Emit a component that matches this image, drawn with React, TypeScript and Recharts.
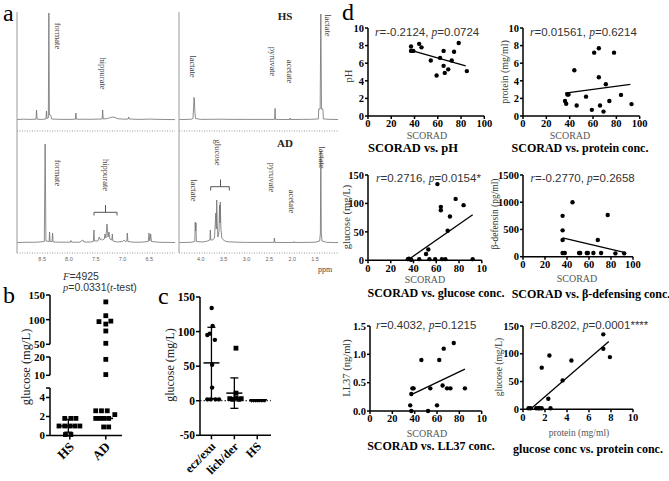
import React from 'react';
import {
  LineChart,
  Line,
  ScatterChart,
  Scatter,
  XAxis,
  YAxis,
  ErrorBar,
  ReferenceLine,
} from 'recharts';

const SERIF = '"Liberation Serif", "Times New Roman", serif';
const SANS = '"Liberation Sans", Arial, sans-serif';

// ---------- panel a: 1H NMR spectra as [ppm, peak height] ----------
const hsAromatic = [
  [8.97, 0.5], [8.85, 0.8], [8.72, 0.6], [8.615, 0.8], [8.605, 10], [8.595, 0.8], [8.5, 0.6],
  [8.43, 1], [8.42, 9], [8.41, 1.5], [8.385, 2], [8.375, 107], [8.365, 5], [8.355, 5], [8.345, 5],
  [8.335, 4], [8.325, 1], [8.2, 0.7], [8.0, 0.6], [7.88, 0.8], [7.87, 7], [7.86, 0.8], [7.6, 0.7],
  [7.45, 0.9], [7.38, 1], [7.371, 10], [7.36, 1], [7.28, 1.5], [7.22, 2.5], [7.18, 3], [7.14, 2.5],
  [7.08, 1.2], [6.95, 0.8], [6.895, 1], [6.885, 3], [6.875, 1], [6.7, 0.6], [6.5, 0.9], [6.3, 0.6],
  [6.15, 0.5], [6.02, 0.4],
];
const adAromatic = [
  [8.97, 0.5], [8.8, 0.7], [8.6, 0.8], [8.46, 1.5], [8.445, 99], [8.43, 2], [8.37, 1.5], [8.362, 11],
  [8.352, 1.5], [8.315, 1.5], [8.306, 10], [8.296, 1], [8.15, 0.8], [7.975, 0.8], [7.964, 2.5],
  [7.95, 0.8], [7.8, 0.8], [7.74, 3], [7.72, 1], [7.6, 1], [7.545, 1.5], [7.534, 13], [7.523, 2],
  [7.46, 2], [7.435, 6], [7.41, 3], [7.39, 4], [7.37, 3], [7.34, 4], [7.328, 9], [7.31, 5], [7.29, 19],
  [7.27, 6], [7.253, 11], [7.235, 4], [7.2, 3], [7.19, 9], [7.18, 2], [7.1, 1], [7.0, 1.5], [6.973, 3],
  [6.95, 1.5], [6.92, 2], [6.911, 10], [6.9, 1.5], [6.8, 0.8], [6.65, 0.8], [6.52, 1.5], [6.506, 10],
  [6.49, 2], [6.474, 9], [6.46, 1.5], [6.3, 0.7], [6.15, 0.6], [6.02, 0.5],
];
const hsAliphatic = [
  [4.47, 0.5], [4.3, 0.6], [4.2, 0.8], [4.17, 1.5], [4.155, 14], [4.147, 22.6], [4.138, 20], [4.128, 8],
  [4.115, 1.5], [4.0, 0.6], [3.8, 0.7], [3.6, 0.8], [3.3, 0.6], [3.0, 0.6], [2.7, 0.6], [2.385, 0.6],
  [2.375, 11.6], [2.365, 0.6], [2.2, 0.5], [2.055, 0.5], [2.047, 2], [2.04, 0.5], [1.8, 0.6], [1.6, 0.7],
  [1.45, 1], [1.43, 1], [1.42, 11], [1.39, 11], [1.375, 106], [1.36, 11], [1.33, 11], [1.32, 1],
  [1.15, 0.6], [1.0, 0.5],
];
const adAliphatic = [
  [4.47, 0.5], [4.3, 0.6], [4.2, 0.8], [4.13, 1.5], [4.12, 21], [4.112, 12], [4.104, 20], [4.095, 1.5],
  [3.95, 1], [3.85, 2], [3.8, 3], [3.79, 13], [3.78, 3], [3.74, 3], [3.7, 5], [3.67, 30], [3.66, 14],
  [3.65, 43], [3.64, 20], [3.625, 6], [3.6, 12], [3.59, 38], [3.58, 20], [3.572, 41], [3.56, 15],
  [3.54, 5], [3.48, 2], [3.4, 1.2], [3.2, 0.8], [3.0, 0.6], [2.7, 0.6], [2.4, 0.6], [2.39, 5], [2.38, 0.6],
  [2.2, 0.5], [1.97, 0.5], [1.96, 1.5], [1.95, 0.5], [1.7, 0.6], [1.5, 0.8], [1.4, 2], [1.385, 10],
  [1.375, 92], [1.365, 10], [1.35, 2], [1.25, 0.7], [1.1, 0.5], [1.0, 0.5],
];
const aromaticTicks = [8.5, 8.0, 7.5, 7.0, 6.5];
const aliphaticTicks = [4.0, 3.5, 3.0, 2.5, 2.0, 1.5];

// ---------- panel b ----------
const bGroups = ['HS', 'AD'];
const bHsGlucose = [1.8, 1.8, 1.8, 1.0, 1.0, 1.0, 1.0, 1.0, 0.1, 0.1];
const bHsJitter = [-0.14, 0.03, 0.17, -0.3, -0.14, 0, 0.14, 0.28, -0.12, 0.03];
const bAdGlucose = [136, 108, 96, 91, 97, 77, 52, 18.7, 10.4, 2.6, 2.6, 2.6, 1.8, 1.8, 1.8, 1.8, 2.2, 0.9, 0.9];
const bAdJitter = [0, 0, -0.19, 0, 0.14, 0, 0, 0, 0, -0.28, -0.12, 0.04, -0.28, -0.17, -0.05, 0.08, 0.25, -0.06, 0.08];
const bHsMedian = 1.0;
const bHsRange = [0.65, 0.7];
const bAdMedian = 1.8;

// ---------- panel c ----------
const cGroups = ['ecz/exu', 'lich/der', 'HS'];
const cEczGlucose = [134, 108, 97, 95, 88, 52, 19, 2, 2, 2, 2];
const cEczJitter = [0.01, 0.05, -0.07, -0.18, 0.15, 0.03, 0.03, -0.18, -0.03, 0.18, 0.33];
const cLichGlucose = [76, 11, 3, 2, 4, 2, 3];
const cLichJitter = [0.07, 0.07, -0.2, -0.07, 0.07, 0.2, 0.3];
const cHsGlucose = [0, 0, 0, 0, 0, 0, 0, 0];
const cHsJitter = [-0.25, -0.17, -0.08, 0, 0.08, 0.17, 0.25, 0.33];
const cMean = [54.7, 11, 0];
const cSd = [51.5, 22, 0.5];

// ---------- panel d ----------
const scoradTicks = [0, 20, 40, 60, 80, 100];
const scoradTickLabels = ['0', '20', '40', '60', '80', '100'];
const scoradTickLabelsCut = ['0', '20', '40', '60', '80', '10'];
const tenTicks = [0, 2, 4, 6, 8, 10];
const glucoseTicks = [0, 50, 100, 150];
const defensinTicks = [0, 500, 1000, 1500];
const ll37Ticks = [0, 0.5, 1, 1.5];
const ll37TickLabels = ['0.0', '0.5', '1.0', '1.5'];

const phScorad = [37, 37, 39, 44, 46, 54, 59, 62, 65, 65, 66, 69, 72, 74, 78, 85];
const phValue = [7.9, 7.4, 7.4, 8.2, 7.8, 6.3, 4.6, 6.6, 7.4, 5.7, 4.9, 5.3, 6.3, 7.3, 8.3, 5.1];
const phFitX = [37, 84];
const phFitY = [7.45, 5.7];

const protScorad = [36, 37, 38, 39, 44, 46, 54, 59, 61, 65, 65, 66, 69, 71, 74, 78, 84, 93];
const protValue = [1.7, 1.4, 2.45, 2.45, 5.2, 1.2, 2.2, 0.7, 7.2, 4.4, 7.7, 1.2, 0.5, 3.6, 1.7, 7.2, 2.4, 1.35];
const protFitX = [36, 92];
const protFitY = [2.6, 3.6];

const gluScorad = [35, 36, 37, 38, 45, 51, 53, 54, 59, 61, 64, 64, 65, 68, 70, 72, 77, 84, 92];
const gluValue = [2, 3, 2, 1, 2, 11, 19, 2, 2, 134, 88, 94, 2, 2, 52, 77, 108, 97, 2];
const gluFitX = [36, 92];
const gluFitY = [2, 80];

const defScorad = [36, 36, 36, 36, 38, 45, 51, 52, 58, 59, 64, 68, 71, 77, 84, 92];
const defValue = [306, 750, 484, 67, 67, 1000, 67, 67, 67, 67, 67, 306, 67, 765, 61, 61];
const defFitX = [36, 92];
const defFitY = [345, 80];

const llScorad = [36, 37, 37, 38, 39, 46, 52, 54, 60, 62, 65, 66, 69, 72, 75, 85];
const llValue = [0.1, 0.3, 0.0, 0.4, 0.4, 0.9, 0.0, 0.4, 0.1, 0.9, 0.45, 1.1, 0.4, 0.4, 1.2, 0.4];
const llFitX = [37, 85];
const llFitY = [0.29, 0.74];

const gpProtein = [0.5, 0.7, 1.2, 1.4, 1.5, 1.7, 1.7, 2.3, 2.4, 2.5, 3.6, 4.4, 7.3, 7.3, 7.9];
const gpGlucose = [2, 2, 2, 2, 2, 2, 75, 19, 97, 2, 52, 88, 135, 109, 94];
const gpFitX = [0.67, 7.8];
const gpFitY = [0, 122];

type Box = { x0: number; y0: number; x1: number; y1: number };
type Pad = { l: number; t: number; r: number; b: number };

// chart frame so that the plot area lands on the given page box
function place(box: Box, pad: Pad) {
  return {
    left: box.x0 - pad.l,
    top: box.y0 - pad.t,
    width: box.x1 - box.x0 + pad.l + pad.r,
    height: box.y1 - box.y0 + pad.t + pad.b,
  };
}

const blackAxis = {
  axisLine: { stroke: '#000', strokeWidth: 1.5 },
  tickLine: { stroke: '#000', strokeWidth: 1.5 },
};
const boldTick = (size: number) => ({ fill: '#000', fontSize: size, fontWeight: 700, fontFamily: SERIF });

const Dot = (p: any) => <circle cx={p.cx} cy={p.cy} r={2.2} fill="#000" />;
const Square = (p: any) => <rect x={p.cx - 2.4} y={p.cy - 2.4} width={4.8} height={4.8} fill="#000" />;
const Tri = (p: any) => <path d={`M${p.cx - 2.5},${p.cy - 1.8}L${p.cx + 2.5},${p.cy - 1.8}L${p.cx},${p.cy + 2}Z`} fill="#000" />;
const Hidden = () => <g />;
const hBar = (half: number) => (p: any) => (
  <line x1={p.cx - half} x2={p.cx + half} y1={p.cy} y2={p.cy} stroke="#000" strokeWidth={1.5} />
);

const slantTick = (labels: string[], ticks: number[], size: number) => (p: any) => {
  const label = labels[ticks.indexOf(p.payload.value)] ?? '';
  const ax = p.x + 2;
  const ay = p.y + 3;
  return (
    <text
      x={ax}
      y={ay}
      transform={`rotate(-45 ${ax} ${ay})`}
      textAnchor="end"
      dominantBaseline="central"
      fontFamily={SERIF}
      fontWeight={700}
      fontSize={size}
      fill="#000"
    >
      {label}
    </text>
  );
};

function Spectrum({ box, rows, xDomain, yDomain, ticks }: any) {
  const pad = { l: 1, t: 0, r: 1, b: 14 };
  const f = place(box, pad);
  const data = rows.map(([ppm, h]: number[]) => ({ ppm, h }));
  return (
    <div style={{ position: 'absolute', left: f.left, top: f.top }}>
      <LineChart width={f.width} height={f.height} data={data} margin={{ top: pad.t, right: pad.r, left: 0, bottom: 0 }}>
        <XAxis
          type="number"
          dataKey="ppm"
          domain={xDomain}
          reversed
          allowDataOverflow
          height={pad.b}
          ticks={ticks}
          interval={0}
          tick={ticks ? { fontSize: 5.5, fill: '#666', fontFamily: SANS } : false}
          tickFormatter={(v: number) => v.toFixed(1)}
          tickLine={false}
          tickSize={2}
          tickMargin={2}
          axisLine={{ stroke: '#9a9a9a', strokeDasharray: '1 1.5' }}
        />
        <YAxis
          type="number"
          domain={yDomain}
          allowDataOverflow
          width={pad.l}
          tick={false}
          tickLine={false}
          axisLine={{ stroke: '#9a9a9a' }}
        />
        <Line type="linear" dataKey="h" stroke="#707070" strokeWidth={0.8} dot={false} isAnimationActive={false} />
      </LineChart>
    </div>
  );
}

const bXDomain = [0.45, 2.45];
const bPoints = (vals: number[], jit: number[], c: number) => vals.map((v, i) => ({ x: c + jit[i], y: v }));
const bHsPts = bPoints(bHsGlucose, bHsJitter, 1);
const bAdPts = bPoints(bAdGlucose, bAdJitter, 2);
const inRange = (pts: any[], lo: number, hi: number) => pts.filter((p) => p.y >= lo && p.y <= hi);

function Segment({ box, yDomain, yTicks, yLabels, showX, children }: any) {
  const pad = { l: 34, t: 9, r: 6, b: showX ? 46 : 9 };
  const f = place(box, pad);
  return (
    <div style={{ position: 'absolute', left: f.left, top: f.top }}>
      <ScatterChart width={f.width} height={f.height} margin={{ top: pad.t, right: pad.r, left: 0, bottom: showX ? 0 : pad.b }}>
        <XAxis
          type="number"
          dataKey="x"
          domain={bXDomain}
          ticks={[1, 2]}
          interval={0}
          hide={!showX}
          height={pad.b}
          tickSize={4}
          tickMargin={2}
          tick={slantTick(bGroups, [1, 2], 13)}
          {...blackAxis}
        />
        <YAxis
          type="number"
          dataKey="y"
          domain={yDomain}
          ticks={yTicks}
          interval={0}
          width={pad.l}
          tickSize={4}
          tickMargin={1}
          tick={boldTick(11)}
          tickFormatter={(v: number) => yLabels[yTicks.indexOf(v)]}
          {...blackAxis}
        />
        {children}
      </ScatterChart>
    </div>
  );
}

function PanelB() {
  return (
    <>
      <Segment box={{ x0: 50, y0: 295, x1: 122, y1: 344.3 }} yDomain={[50, 150]} yTicks={[50, 100, 150]} yLabels={['50', '100', '150']}>
        <Scatter data={inRange(bAdPts, 50, 150)} shape={Square} isAnimationActive={false} />
      </Segment>
      <Segment box={{ x0: 50, y0: 356.7, x1: 122, y1: 375 }} yDomain={[10, 20]} yTicks={[10, 20]} yLabels={['10', '20']}>
        <Scatter data={inRange(bAdPts, 10, 20)} shape={Square} isAnimationActive={false} />
      </Segment>
      <Segment box={{ x0: 50, y0: 387.5, x1: 122, y1: 435 }} yDomain={[0, 5]} yTicks={[0, 2, 4, 5]} yLabels={['0', '2', '4', '']} showX>
        <Scatter data={inRange(bHsPts, 0, 5)} shape={Square} isAnimationActive={false} />
        <Scatter data={inRange(bAdPts, 0, 5)} shape={Square} isAnimationActive={false} />
        <Scatter data={[{ x: 0.96, y: bHsMedian, e: bHsRange }]} shape={hBar(8.5)} isAnimationActive={false}>
          <ErrorBar dataKey="e" direction="y" width={4} stroke="#000" strokeWidth={1.3} />
        </Scatter>
        <Scatter data={[{ x: 1.94, y: bAdMedian }]} shape={hBar(9.5)} isAnimationActive={false} />
      </Segment>
    </>
  );
}

function PanelC() {
  const box = { x0: 200, y0: 296.7, x1: 271, y1: 435 };
  const pad = { l: 40, t: 8, r: 8, b: 50 };
  const f = place(box, pad);
  const pts = (vals: number[], jit: number[], c: number) => vals.map((v, i) => ({ x: c + jit[i], y: v }));
  const summary = cMean.map((m, i) => ({ x: i + 1, y: m, e: cSd[i] }));
  return (
    <div style={{ position: 'absolute', left: f.left, top: f.top }}>
      <ScatterChart width={f.width} height={f.height} margin={{ top: pad.t, right: pad.r, left: 0, bottom: 0 }}>
        <XAxis
          type="number"
          dataKey="x"
          domain={[0.5, 3.6]}
          ticks={[1, 2, 3]}
          interval={0}
          height={pad.b}
          tickSize={4}
          tickMargin={2}
          tick={slantTick(cGroups, [1, 2, 3], 12)}
          {...blackAxis}
        />
        <YAxis
          type="number"
          dataKey="y"
          domain={[-50, 150]}
          ticks={[-50, 0, 50, 100, 150]}
          interval={0}
          width={pad.l}
          tickSize={4}
          tickMargin={1}
          tick={boldTick(11.5)}
          {...blackAxis}
        />
        <ReferenceLine y={0} stroke="#000" strokeWidth={1} strokeDasharray="1.5 2" />
        <Scatter data={pts(cEczGlucose, cEczJitter, 1)} shape={Dot} isAnimationActive={false} />
        <Scatter data={pts(cLichGlucose, cLichJitter, 2)} shape={Square} isAnimationActive={false} />
        <Scatter data={pts(cHsGlucose, cHsJitter, 3)} shape={Tri} isAnimationActive={false} />
        <Scatter data={summary} shape={hBar(8)} isAnimationActive={false}>
          <ErrorBar dataKey="e" direction="y" width={4} stroke="#000" strokeWidth={1.3} />
        </Scatter>
      </ScatterChart>
    </div>
  );
}

function Corr({ box, xs, ys, fitX, fitY, xDomain, xTicks, xLabels, yDomain, yTicks, yLabels }: any) {
  const pad = { l: 30, t: 9, r: 10, b: 18 };
  const f = place(box, pad);
  const pts = xs.map((x: number, i: number) => ({ x, y: ys[i] }));
  const fit = fitX.map((x: number, i: number) => ({ x, y: fitY[i] }));
  return (
    <div style={{ position: 'absolute', left: f.left, top: f.top }}>
      <ScatterChart width={f.width} height={f.height} margin={{ top: pad.t, right: pad.r, left: 0, bottom: 0 }}>
        <XAxis
          type="number"
          dataKey="x"
          domain={xDomain}
          ticks={xTicks}
          interval={0}
          height={pad.b}
          tickSize={3}
          tickMargin={1}
          tick={boldTick(10.5)}
          tickFormatter={(v: number) => xLabels[xTicks.indexOf(v)]}
          {...blackAxis}
        />
        <YAxis
          type="number"
          dataKey="y"
          domain={yDomain}
          ticks={yTicks}
          interval={0}
          width={pad.l}
          tickSize={3}
          tickMargin={1}
          tick={boldTick(10.5)}
          tickFormatter={(v: number) => yLabels[yTicks.indexOf(v)]}
          {...blackAxis}
        />
        <Scatter data={pts} shape={Dot} isAnimationActive={false} />
        <Scatter data={fit} line={{ stroke: '#000', strokeWidth: 1.3 }} shape={Hidden} isAnimationActive={false} />
      </ScatterChart>
    </div>
  );
}

const Stat = ({ x, y, a, av, b, bv, size = 11.5 }: any) => (
  <text x={x} y={y} fontSize={size} fill="#333" dominantBaseline="central">
    <tspan fontFamily={SERIF} fontStyle="italic">{a}</tspan>
    <tspan fontFamily={SANS}>{av}</tspan>
    <tspan fontFamily={SERIF} fontStyle="italic">{b}</tspan>
    <tspan fontFamily={SANS}>{bv}</tspan>
  </text>
);

const VLabel = ({ x, y, text, size = 10.5, fill = '#333', rot = -90 }: any) => (
  <text
    x={x}
    y={y}
    transform={`rotate(${rot} ${x} ${y})`}
    textAnchor="middle"
    dominantBaseline="central"
    fontFamily={SERIF}
    fontSize={size}
    fill={fill}
  >
    {text}
  </text>
);

const CText = ({ x, y, text, size = 10, fill = '#555', bold = false }: any) => (
  <text
    x={x}
    y={y}
    textAnchor="middle"
    dominantBaseline="central"
    fontFamily={SERIF}
    fontSize={size}
    fontWeight={bold ? 700 : 400}
    fill={fill}
  >
    {text}
  </text>
);

const peakLabels: [string, number, number][] = [
  ['formate', 58, 36], ['hippurate', 103, 73.5],
  ['lactate', 193, 66.5], ['pyruvate', 273, 61.5], ['acetate', 290, 71.5], ['lactate', 328, 25.5],
  ['formate', 58, 173], ['hippurate', 106, 175],
  ['glucose', 218, 152.5], ['lactate', 194, 190.5], ['pyruvate', 271.7, 177.5], ['acetate', 291.7, 201.5],
  ['lactate', 321.7, 157.5],
];

function Overlay() {
  const letter = { fontFamily: SERIF, fontSize: 24, fill: '#000' };
  return (
    <svg width={669} height={481} style={{ position: 'absolute', left: 0, top: 0, pointerEvents: 'none' }}>
      <text x={3} y={21} {...letter}>a</text>
      <text x={3} y={303} {...letter}>b</text>
      <text x={158} y={304} {...letter}>c</text>
      <text x={342} y={20} {...letter}>d</text>

      {peakLabels.map(([t, x, y], i) => (
        <VLabel key={i} x={x} y={y} text={t} size={8.5} fill="#444" rot={90} />
      ))}
      <CText x={285} y={16} text="HS" size={11} fill="#222" bold />
      <CText x={285} y={143} text="AD" size={11} fill="#222" bold />
      <path d="M94,215.5 L94,212.3 L117,212.3 L117,215.5 M105.5,212.3 L105.5,205" stroke="#555" fill="none" strokeWidth={1} />
      <path d="M210.7,190.5 L210.7,186.7 L229.3,186.7 L229.3,190.5 M220.5,186.7 L220.5,179.5" stroke="#555" fill="none" strokeWidth={1} />
      <text x={318} y={272} fontFamily={SERIF} fontSize={8} fill="#444">ppm</text>

      <Stat x={63} y={276} a="F" av="=4925" b="" bv="" size={10.5} />
      <text x={63} y={287} fontSize={10.5} fill="#333" dominantBaseline="central">
        <tspan fontFamily={SERIF} fontStyle="italic">p</tspan>
        <tspan fontFamily={SANS}>=0.0331(</tspan>
        <tspan fontFamily={SERIF} fontStyle="italic">t</tspan>
        <tspan fontFamily={SANS}>-test)</tspan>
      </text>
      <VLabel x={26} y={367} text="glucose (mg/L)" size={12.5} fill="#222" />
      <VLabel x={170} y={365} text="glucose (mg/L)" size={12} fill="#222" />

      <Stat x={375} y={31.5} a="r" av="=-0.2124, " b="p" bv="=0.0724" />
      <Stat x={530} y={31.5} a="r" av="=0.01561, " b="p" bv="=0.6214" />
      <Stat x={376} y={177.5} a="r" av="=0.2716, " b="p" bv="=0.0154*" />
      <Stat x={530.5} y={177.5} a="r" av="=-0.2770, " b="p" bv="=0.2658" />
      <Stat x={376} y={325} a="r" av="=0.4032, " b="p" bv="=0.1215" />
      <Stat x={530} y={325} a="r" av="=0.8202, " b="p" bv="=0.0001****" />

      <VLabel x={348} y={76} text="pH" />
      <VLabel x={504} y={72} text="protein (mg/ml)" size={10} />
      <VLabel x={346} y={217} text="glucose (mg/L)" />
      <VLabel x={494.5} y={214} text="β-defensin (pg/ml)" size={9.5} />
      <VLabel x={346} y={368} text="LL37 (ng/ml)" />
      <VLabel x={499} y={367} text="glucose (mg/L)" size={9.5} />

      <CText x={427} y={135.5} text="SCORAD" />
      <CText x={570} y={135.5} text="SCORAD" />
      <CText x={425} y={279.5} text="SCORAD" />
      <CText x={577} y={278} text="SCORAD" />
      <CText x={427} y={433.5} text="SCORAD" />
      <CText x={579} y={432.5} text="protein (mg/ml)" size={9.5} />

      <CText x={413} y={148} text="SCORAD vs. pH" size={12.5} fill="#000" bold />
      <CText x={580} y={148} text="SCORAD vs. protein conc." size={12} fill="#000" bold />
      <CText x={436} y={293} text="SCORAD vs. glucose conc." size={12} fill="#000" bold />
      <CText x={591} y={294} text="SCORAD vs. β-defensing conc." size={12} fill="#000" bold />
      <CText x={431} y={446} text="SCORAD vs. LL37  conc." size={12} fill="#000" bold />
      <CText x={588} y={448.5} text="glucose conc vs. protein  conc." size={12} fill="#000" bold />
    </svg>
  );
}

export default function App() {
  return (
    <div style={{ position: 'absolute', left: 0, top: 0, width: 669, height: 481, background: '#fff', overflow: 'hidden' }}>
      <Spectrum box={{ x0: 17, y0: 12, x1: 175, y1: 131 }} rows={hsAromatic} xDomain={[6.02, 8.97]} yDomain={[-11, 108]} />
      <Spectrum box={{ x0: 17, y0: 131, x1: 175, y1: 253 }} rows={adAromatic} xDomain={[6.02, 8.97]} yDomain={[-10, 112]} ticks={aromaticTicks} />
      <Spectrum box={{ x0: 179, y0: 12, x1: 338, y1: 131 }} rows={hsAliphatic} xDomain={[1.0, 4.475]} yDomain={[-11, 108]} />
      <Spectrum box={{ x0: 179, y0: 131, x1: 338, y1: 253 }} rows={adAliphatic} xDomain={[1.0, 4.475]} yDomain={[-10, 112]} ticks={aliphaticTicks} />

      <PanelB />
      <PanelC />

      <Corr box={{ x0: 367.7, y0: 28, x1: 484, y1: 116 }} xs={phScorad} ys={phValue} fitX={phFitX} fitY={phFitY}
        xDomain={[0, 100]} xTicks={scoradTicks} xLabels={scoradTickLabels}
        yDomain={[0, 10]} yTicks={tenTicks} yLabels={tenTicks.map(String)} />
      <Corr box={{ x0: 523.3, y0: 28, x1: 640, y1: 116 }} xs={protScorad} ys={protValue} fitX={protFitX} fitY={protFitY}
        xDomain={[0, 100]} xTicks={scoradTicks} xLabels={scoradTickLabels}
        yDomain={[0, 10]} yTicks={tenTicks} yLabels={tenTicks.map(String)} />
      <Corr box={{ x0: 367.7, y0: 175, x1: 481.5, y1: 260.3 }} xs={gluScorad} ys={gluValue} fitX={gluFitX} fitY={gluFitY}
        xDomain={[0, 100]} xTicks={scoradTicks} xLabels={scoradTickLabelsCut}
        yDomain={[0, 150]} yTicks={glucoseTicks} yLabels={glucoseTicks.map(String)} />
      <Corr box={{ x0: 523.3, y0: 175, x1: 633.3, y1: 256.7 }} xs={defScorad} ys={defValue} fitX={defFitX} fitY={defFitY}
        xDomain={[0, 100]} xTicks={scoradTicks} xLabels={scoradTickLabels}
        yDomain={[0, 1500]} yTicks={defensinTicks} yLabels={defensinTicks.map(String)} />
      <Corr box={{ x0: 370, y0: 325.7, x1: 481.7, y1: 410.7 }} xs={llScorad} ys={llValue} fitX={llFitX} fitY={llFitY}
        xDomain={[0, 100]} xTicks={scoradTicks} xLabels={scoradTickLabelsCut}
        yDomain={[0, 1.5]} yTicks={ll37Ticks} yLabels={ll37TickLabels} />
      <Corr box={{ x0: 523.3, y0: 325.7, x1: 633.3, y1: 409 }} xs={gpProtein} ys={gpGlucose} fitX={gpFitX} fitY={gpFitY}
        xDomain={[0, 10]} xTicks={tenTicks} xLabels={tenTicks.map(String)}
        yDomain={[0, 150]} yTicks={glucoseTicks} yLabels={glucoseTicks.map(String)} />

      <Overlay />
    </div>
  );
}
